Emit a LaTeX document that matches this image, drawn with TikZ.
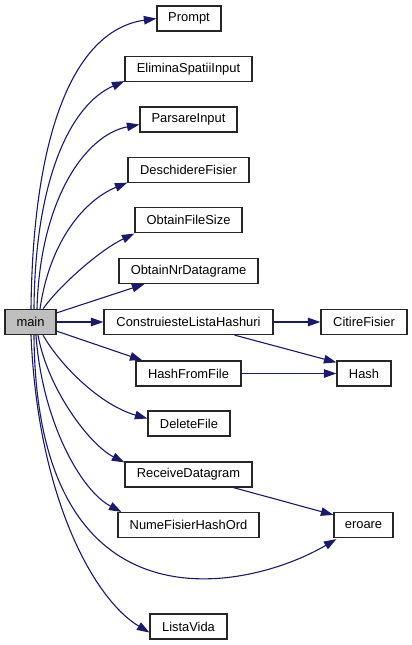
\documentclass[tikz,border=0pt]{standalone}
\usepackage{fontspec}
\setmainfont{Liberation Sans}
\usetikzlibrary{arrows.meta}
\definecolor{edgecol}{HTML}{191970}
\definecolor{mainfill}{HTML}{BFBFBF}
\definecolor{boxline}{HTML}{262626}
\begin{document}
\begin{tikzpicture}[x=1pt,y=-1pt,
  fn/.style={draw=boxline,line width=1.2pt,fill=white,rectangle,inner sep=0pt,minimum height=25pt,font=\fontsize{12.9}{14}\selectfont},
  call/.style={draw=edgecol,line width=1.1pt,-{Triangle[length=12.5pt,width=8.5pt]}}]
\useasboundingbox[fill=white] (0,0) rectangle (412,645);
\node[fn,minimum width=64pt] (prompt) at (189,18.5) {Prompt};
\node[fn,minimum width=127pt] (elim) at (188.5,69) {EliminaSpatiiInput};
\node[fn,minimum width=97pt] (pars) at (188.5,119.5) {ParsareInput};
\node[fn,minimum width=121pt] (desc) at (188.5,170) {DeschidereFisier};
\node[fn,minimum width=107pt] (ofs) at (188.5,220) {ObtainFileSize};
\node[fn,minimum width=139pt] (ond) at (188.5,271) {ObtainNrDatagrame};
\node[fn,minimum width=51pt,fill=mainfill] (main) at (30.5,322) {main};
\node[fn,minimum width=169pt] (clh) at (188.5,322) {ConstruiesteListaHashuri};
\node[fn,minimum width=86pt] (cit) at (364,322) {CitireFisier};
\node[fn,minimum width=105pt] (hff) at (188.5,373.5) {HashFromFile};
\node[fn,minimum width=54pt] (hash) at (364,373.5) {Hash};
\node[fn,minimum width=82pt] (del) at (189,423.5) {DeleteFile};
\node[fn,minimum width=127pt] (recv) at (188.5,474.5) {ReceiveDatagram};
\node[fn,minimum width=141pt] (nume) at (188.5,525) {NumeFisierHashOrd};
\node[fn,minimum width=59pt] (eroare) at (363.5,525) {eroare};
\node[fn,minimum width=77pt] (lista) at (188.5,626.5) {ListaVida};

\draw[call] ([xshift=0.5pt]main.north) .. controls (33,130) and (75,30) .. (prompt.west);
\draw[call] ([xshift=3.5pt]main.north) .. controls (35,180) and (70,105) .. ([yshift=1pt]elim.south west);
\draw[call] ([xshift=6.5pt]main.north) .. controls (40,200) and (85,135) .. ([yshift=-5pt]pars.west);
\draw[call] ([xshift=9.5pt]main.north) .. controls (50,240) and (85,200) .. ([yshift=0.5pt]desc.south west);
\draw[call] ([xshift=12.5pt]main.north) .. controls (60,285) and (100,250) .. ([yshift=-0.5pt]ofs.south west);
\draw[call] ([yshift=-4pt]main.north east) -- ([xshift=26pt]ond.south west);
\draw[call] (main.east) -- (clh.west);
\draw[call] ([yshift=4pt]main.south east) -- ([xshift=7pt]hff.north west);
\draw[call] ([xshift=12.5pt]main.south) .. controls (60,365) and (100,405) .. ([yshift=5pt]del.west);
\draw[call] ([xshift=7.5pt]main.south) .. controls (48,390) and (90,445) .. ([yshift=-1pt]recv.north west);
\draw[call] ([xshift=5.5pt]main.south) .. controls (42,420) and (80,490) .. ([xshift=4pt]nume.north west);
\draw[call] ([xshift=3.5pt]main.south) .. controls (36,640) and (250,590) .. ([xshift=3pt,yshift=-1pt]eroare.south west);
\draw[call] ([xshift=0.5pt]main.south) .. controls (38,500) and (95,600) .. ([yshift=-6pt]lista.west);
\draw[call] (clh.east) -- (cit.west);
\draw[call] ([xshift=46pt]clh.south) -- ([yshift=-2pt]hash.north west);
\draw[call] (hff.east) -- (hash.west);
\draw[call] ([xshift=45pt]recv.south) -- ([yshift=-3pt]eroare.north west);
\end{tikzpicture}
\end{document}
